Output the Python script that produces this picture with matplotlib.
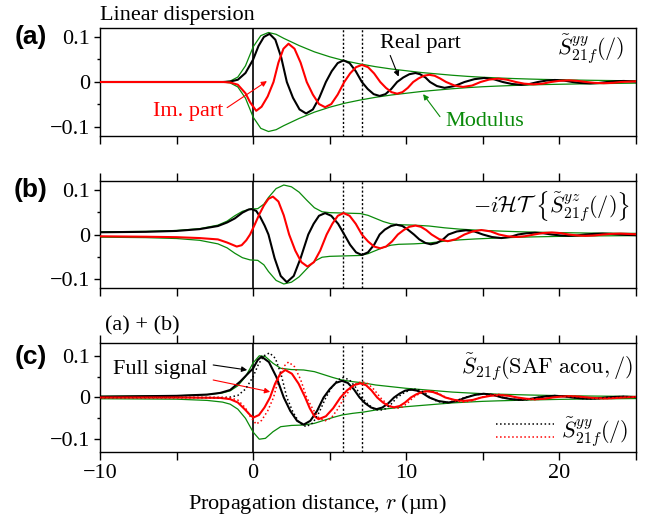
import numpy as np
import matplotlib
matplotlib.use('Agg')
import matplotlib.pyplot as plt
from matplotlib.ticker import MultipleLocator, FuncFormatter
from matplotlib.lines import Line2D
from matplotlib.legend_handler import HandlerBase

plt.rcParams['font.family'] = ['Liberation Serif', 'DejaVu Serif']
plt.rcParams['mathtext.fontset'] = 'cm'
plt.rcParams['font.size'] = 16
plt.rcParams['axes.linewidth'] = 1.0

# values as (r, S) pairs, r in um

# (a) linear dispersion, S21f^yy
a_re = [(-10, 0), (-2, 0), (-1.5, 0.001), (-1.0, 0.005), (-0.5, 0.02), (0, 0.05), (0.35, 0.08), (0.7, 0.1),
        (1.07, 0.107), (1.45, 0.094), (1.83, 0.055), (2.2, 0), (2.6, -0.035), (3.03, -0.061), (3.46, -0.07),
        (3.9, -0.061), (4.32, -0.035), (4.75, 0), (5.13, 0.024), (5.52, 0.042), (5.9, 0.048), (6.3, 0.042),
        (6.7, 0.024), (7.1, 0), (7.48, -0.0155), (7.87, -0.027), (8.26, -0.031), (8.64, -0.027), (9.02, -0.0155),
        (9.4, 0), (9.8, 0.01), (10.2, 0.0173), (10.6, 0.020), (10.9, 0.0173), (11.25, 0.01), (11.55, 0),
        (12.0, -0.009), (12.5, -0.013), (13.15, -0.009), (13.8, 0), (14.45, 0.0063), (15.1, 0.009), (15.7, 0.0063),
        (16.3, 0), (16.9, -0.0044), (17.5, -0.0063), (18.05, -0.0044), (18.6, 0), (19.15, 0.0032), (19.7, 0.0045),
        (20.3, 0.0032), (20.85, 0), (21.4, -0.0023), (22.0, -0.0032), (22.55, -0.0023), (23.1, 0), (23.65, 0.0016),
        (24.2, 0.0023), (25, 0.001)]
a_im = [(-10, 0), (-2, 0), (-1.5, -0.001), (-1.0, -0.006), (-0.5, -0.025), (-0.2, -0.045), (0.2, -0.064),
        (0.55, -0.055), (0.95, -0.032), (1.33, 0), (1.65, 0.043), (1.98, 0.074), (2.31, 0.085), (2.7, 0.074),
        (3.1, 0.043), (3.5, 0), (3.9, -0.028), (4.3, -0.049), (4.7, -0.056), (5.1, -0.049), (5.52, -0.028),
        (5.95, 0), (6.33, 0.019), (6.72, 0.033), (7.1, 0.038), (7.5, 0.033), (7.9, 0.019), (8.3, 0),
        (8.67, -0.013), (9.03, -0.0225), (9.4, -0.026), (9.75, -0.0225), (10.1, -0.013), (10.45, 0), (10.8, 0.008),
        (11.15, 0.0139), (11.5, 0.016), (11.85, 0.0139), (12.2, 0.008), (12.6, 0), (13.15, -0.0078),
        (13.7, -0.011), (14.3, -0.0078), (14.85, 0), (15.4, 0.0053), (16.0, 0.0075), (16.55, 0.0053), (17.15, 0),
        (17.7, -0.0037), (18.3, -0.0052), (18.9, -0.0037), (19.45, 0), (20.0, 0.0026), (20.6, 0.0037),
        (21.15, 0.0026), (21.75, 0), (22.3, -0.0019), (22.9, -0.0027), (23.5, -0.0019), (24.0, 0), (25, 0.0015)]
a_mod = [(-10, 0), (-2, 0), (-1.5, 0.002), (-1.0, 0.011), (-0.5, 0.036), (0, 0.078), (0.5, 0.103), (1.0, 0.110),
         (1.5, 0.106), (2.0, 0.097), (3.0, 0.081), (4.0, 0.067), (5.0, 0.056), (6.0, 0.047), (7.0, 0.040),
         (8.0, 0.034), (9.0, 0.029), (10.0, 0.025), (11.0, 0.021), (12.0, 0.018), (13.0, 0.015), (14.0, 0.0125),
         (15.0, 0.0105), (16.0, 0.009), (17.0, 0.0077), (18.0, 0.0066), (19.0, 0.0057), (20.0, 0.005),
         (22.0, 0.0038), (25.0, 0.0025)]

# (b) -iHT{S21f^yz}
b_re = [(-10, 0.005), (-7, 0.006), (-5, 0.008), (-3.5, 0.012), (-2.3, 0.019), (-1.7, 0.027), (-1.2, 0.036),
        (-0.7, 0.049), (-0.3, 0.056), (-0.1, 0.057), (0.2, 0.053), (0.45, 0.04), (0.75, 0.02), (1.0, 0),
        (1.4, -0.053), (1.8, -0.093), (2.2, -0.107), (2.65, -0.093), (3.1, -0.053), (3.6, 0), (3.95, 0.024),
        (4.3, 0.042), (4.7, 0.048), (5.1, 0.042), (5.55, 0.024), (5.95, 0), (6.33, -0.023), (6.72, -0.04),
        (7.1, -0.046), (7.5, -0.04), (7.9, -0.023), (8.26, 0), (8.6, 0.011), (9.0, 0.019), (9.35, 0.022),
        (9.75, 0.019), (10.1, 0.011), (10.5, 0), (10.85, -0.011), (11.25, -0.019), (11.6, -0.022), (12.0, -0.019),
        (12.4, -0.011), (12.75, 0), (13.3, 0.0068), (13.9, 0.0095), (14.45, 0.0068), (15.0, 0), (15.6, -0.0057),
        (16.2, -0.008), (16.75, -0.0057), (17.3, 0), (17.85, 0.0028), (18.4, 0.004), (18.95, 0.0028), (19.5, 0),
        (20.05, -0.0021), (20.6, -0.003), (21.15, -0.0021), (21.7, 0), (22.25, 0.0014), (22.8, 0.002),
        (23.35, 0.0014), (23.9, 0), (24.45, -0.001), (25, -0.0015)]
b_im = [(-10, -0.004), (-7, -0.005), (-5, -0.006), (-3.5, -0.008), (-2.3, -0.011), (-1.7, -0.018),
        (-1.07, -0.027), (-0.75, -0.024), (-0.45, -0.013), (-0.2, 0), (0.1, 0.022), (0.4, 0.045), (0.7, 0.065),
        (1.0, 0.08), (1.29, 0.085), (1.65, 0.074), (2.0, 0.043), (2.35, 0), (2.75, -0.036), (3.15, -0.062),
        (3.55, -0.072), (3.97, -0.062), (4.38, -0.036), (4.8, 0), (5.17, 0.024), (5.53, 0.042), (5.9, 0.048),
        (6.3, 0.042), (6.7, 0.024), (7.1, 0), (7.5, -0.0155), (7.9, -0.027), (8.3, -0.031), (8.68, -0.027),
        (9.07, -0.0155), (9.45, 0), (9.83, 0.01), (10.2, 0.0173), (10.6, 0.020), (10.95, 0.0173), (11.3, 0.01),
        (11.65, 0), (12.15, -0.0105), (12.7, -0.015), (13.25, -0.0105), (13.8, 0), (14.35, 0.007), (14.9, 0.010),
        (15.5, 0.007), (16.05, 0), (16.6, -0.0039), (17.2, -0.0055), (17.75, -0.0039), (18.35, 0), (18.9, 0.0032),
        (19.5, 0.0045), (20.05, 0.0032), (20.6, 0), (21.15, -0.0021), (21.7, -0.003), (22.3, -0.0021), (22.85, 0),
        (23.4, 0.0014), (24.0, 0.002), (25, 0.0005)]
b_mod = [(-10, 0.006), (-7, 0.007), (-5, 0.009), (-3.5, 0.013), (-2.3, 0.021), (-1.7, 0.03), (-1.2, 0.042),
         (-0.7, 0.052), (-0.2, 0.057), (0.3, 0.058), (0.7, 0.068), (1.0, 0.083), (1.5, 0.103), (2.0, 0.111),
         (2.5, 0.107), (3.0, 0.095), (3.5, 0.077), (4.0, 0.06), (4.5, 0.051), (5.0, 0.049), (6.0, 0.048),
         (7.0, 0.047), (7.5, 0.043), (8.0, 0.036), (8.5, 0.029), (9.0, 0.024), (9.5, 0.022), (10.5, 0.021),
         (11.5, 0.019), (12.5, 0.015), (13.5, 0.012), (14.5, 0.01), (15.5, 0.0085), (16.5, 0.0072), (17.5, 0.006),
         (18.5, 0.0052), (20.0, 0.0042), (22.0, 0.0032), (25.0, 0.0025)]

# (c) full signal (a) + (b)
c_re = [(-10, 0.002), (-5, 0.004), (-3, 0.007), (-2.15, 0.011), (-1.5, 0.018), (-0.85, 0.038), (-0.4, 0.055),
        (0, 0.07), (0.3, 0.09), (0.55, 0.098), (1.03, 0.085), (1.52, 0.049), (2.0, 0), (2.43, -0.0325),
        (2.87, -0.056), (3.3, -0.065), (3.73, -0.056), (4.17, -0.0325), (4.6, 0), (5.0, 0.02), (5.4, 0.035),
        (5.8, 0.040), (6.18, 0.035), (6.57, 0.02), (6.95, 0), (7.32, -0.014), (7.7, -0.024), (8.06, -0.028),
        (8.44, -0.024), (8.82, -0.014), (9.2, 0), (9.57, 0.0095), (9.93, 0.0165), (10.3, 0.019), (10.7, 0.0165),
        (11.1, 0.0095), (11.5, 0), (12.1, -0.0085), (12.75, -0.012), (13.3, -0.0085), (13.9, 0), (14.5, 0.0064),
        (15.05, 0.009), (15.65, 0.0064), (16.25, 0), (16.85, -0.004), (17.45, -0.0056), (18.0, -0.004), (18.6, 0),
        (19.15, 0.0028), (19.7, 0.004), (20.3, 0.0028), (20.85, 0), (21.4, -0.002), (22.0, -0.0028),
        (22.55, -0.002), (23.1, 0), (23.65, 0.0014), (24.2, 0.002), (25, 0.001)]
c_im = [(-10, 0), (-5, 0), (-2.15, -0.001), (-1.5, -0.004), (-1.0, -0.012), (-0.5, -0.03), (-0.2, -0.042),
        (0.02, -0.048), (0.38, -0.042), (0.74, -0.024), (1.1, 0), (1.43, 0.033), (1.77, 0.057), (2.1, 0.066),
        (2.53, 0.057), (2.97, 0.033), (3.4, 0), (3.7, -0.026), (4.0, -0.045), (4.27, -0.052), (4.75, -0.045),
        (5.22, -0.026), (5.7, 0), (6.13, 0.017), (6.57, 0.0295), (7.0, 0.034), (7.37, 0.0295), (7.73, 0.017),
        (8.1, 0), (8.47, -0.0118), (8.83, -0.0204), (9.2, -0.0235), (9.57, -0.0204), (9.93, -0.0118), (10.3, 0),
        (10.65, 0.0075), (11.0, 0.013), (11.35, 0.015), (11.75, 0.013), (12.15, 0.0075), (12.55, 0),
        (13.15, -0.0058), (13.75, -0.0082), (14.35, -0.0058), (14.9, 0), (15.5, 0.004), (16.1, 0.0057),
        (16.7, 0.004), (17.25, 0), (17.85, -0.003), (18.4, -0.0042), (19.0, -0.003), (19.55, 0), (20.1, 0.0021),
        (20.7, 0.003), (21.3, 0.0021), (21.85, 0), (22.4, -0.0015), (23.0, -0.0021), (23.55, -0.0015), (24.1, 0),
        (25, 0.0015)]
c_mod = [(-10, 0.003), (-5, 0.004), (-3, 0.007), (-2, 0.011), (-1.5, 0.016), (-1, 0.028), (-0.5, 0.05), (0, 0.083),
         (0.4, 0.1), (0.8, 0.098), (1.3, 0.082), (1.8, 0.07), (2.5, 0.067), (3.3, 0.066), (4.0, 0.062),
         (4.6, 0.055), (5.2, 0.048), (5.8, 0.042), (6.5, 0.038), (7.2, 0.035), (8, 0.03), (9, 0.026), (10, 0.022),
         (11, 0.019), (12, 0.016), (13, 0.013), (14, 0.011), (15, 0.0092), (16, 0.008), (18, 0.006), (20, 0.0045),
         (22, 0.0035), (25, 0.0025)]

dotted_x = [5.9, 7.1]

GREEN = '#0a8a0a'


def xy(pairs):
    arr = np.array(pairs, dtype=float)
    return arr[:, 0], arr[:, 1]


def yfmt(v, pos):
    if abs(v) < 1e-9:
        return '0'
    return f'{v:.1f}'.replace('-', '\u2212')


class HandlerStack(HandlerBase):
    # two line samples above each other with one label
    def create_artists(self, legend, orig_handle, xdescent, ydescent, width, height, fontsize, trans):
        arts = []
        for i, h in enumerate(orig_handle):
            y = height * (0.95 - 0.9 * i) - ydescent
            ln = Line2D([-xdescent, width - xdescent], [y, y], color=h.get_color(),
                        linestyle=h.get_linestyle(), linewidth=h.get_linewidth())
            ln.set_transform(trans)
            arts.append(ln)
        return arts


def style(ax, ylim, top, labels):
    ax.set_xlim(-10, 25)
    ax.set_ylim(-ylim, ylim)
    ax.xaxis.set_major_locator(MultipleLocator(10))
    ax.xaxis.set_minor_locator(MultipleLocator(5))
    ax.yaxis.set_major_locator(MultipleLocator(0.1))
    ax.yaxis.set_minor_locator(MultipleLocator(0.05))
    ax.yaxis.set_major_formatter(FuncFormatter(yfmt))
    ax.tick_params(axis='x', which='both', direction='out', length=5.5, width=1,
                   top=top, bottom=True, labelbottom=labels)
    ax.tick_params(axis='y', which='major', direction='out', length=4.3, width=1, pad=3)
    ax.tick_params(axis='y', which='minor', direction='out', length=2.2, width=1)
    ax.axvline(0, color='k', lw=1.2, zorder=1)
    for xv in dotted_x:
        ax.axvline(xv, color='k', lw=1.0, ls=(0, (1.5, 1.5)), zorder=1)


def draw(ax, re, im, mod):
    mx, my = xy(mod)
    ax.plot(mx, my, color=GREEN, lw=0.9, zorder=2)
    ax.plot(mx, -my, color=GREEN, lw=0.9, zorder=2)
    ax.plot(*xy(re), color='k', lw=1.5, zorder=3, solid_joinstyle='round')
    ax.plot(*xy(im), color='red', lw=1.5, zorder=4, solid_joinstyle='round')


arrow = dict(arrowstyle='-|>', lw=0.8, mutation_scale=8, shrinkA=0, shrinkB=0)

fig = plt.figure(figsize=(6.49, 5.21), dpi=100)
L, W = 100 / 649, 536 / 649
ax_a = fig.add_axes([L, 1 - 136 / 521, W, 108 / 521])
ax_b = fig.add_axes([L, 1 - 288 / 521, W, 107 / 521])
ax_c = fig.add_axes([L, 1 - 451.7 / 521, W, 108.4 / 521])

style(ax_a, 0.12, False, False)
style(ax_b, 0.12, True, False)
style(ax_c, 0.13, True, True)

# panel a
draw(ax_a, a_re, a_im, a_mod)
ax_a.text(0.0, 1.03, 'Linear dispersion', transform=ax_a.transAxes, ha='left', va='bottom')
ax_a.text(0.979, 0.80, r'$\tilde{S}^{yy}_{21f}(/)$', transform=ax_a.transAxes, ha='right', va='center')
ax_a.text(10.9, 0.086, 'Real part', ha='center', va='center')
ax_a.annotate('', xy=(9.5, 0.012), xytext=(8.95, 0.059), arrowprops=dict(arrow, color='k'))
ax_a.text(-4.25, -0.066, 'Im. part', ha='center', va='center', color='red')
ax_a.annotate('', xy=(0.9, 0.002), xytext=(-1.7, -0.057), arrowprops=dict(arrow, color='red'))
ax_a.text(15.1, -0.088, 'Modulus', ha='center', va='center', color=GREEN)
ax_a.annotate('', xy=(11.1, -0.027), xytext=(12.2, -0.077), arrowprops=dict(arrow, color=GREEN))

# panel b
draw(ax_b, b_re, b_im, b_mod)
ax_b.text(0.989, 0.757, r'$-i\mathcal{HT}\ \left\{\tilde{S}^{yz}_{21f}(/)\right\}$', transform=ax_b.transAxes,
          ha='right', va='center')

# panel c
draw(ax_c, c_re, c_im, c_mod)
l1, = ax_c.plot(*xy(a_re), color='k', lw=1.1, ls=':', zorder=5)
l2, = ax_c.plot(*xy(a_im), color='red', lw=1.1, ls=':', zorder=5)
ax_c.text(0.009, 1.075, '(a) + (b)', transform=ax_c.transAxes, ha='left', va='bottom')
ax_c.text(0.994, 0.78, r'$\tilde{S}_{21f}(\mathrm{SAF\ acou},/)$', transform=ax_c.transAxes, ha='right', va='center')
ax_c.text(-6.08, 0.066, 'Full signal', ha='center', va='center')
ax_c.annotate('', xy=(-0.39, 0.066), xytext=(-2.61, 0.078), arrowprops=dict(arrow, color='k'))
ax_c.annotate('', xy=(1.11, 0.0136), xytext=(-2.61, 0.042), arrowprops=dict(arrow, color='red'))
ax_c.legend([(l1, l2)], [r'$\tilde{S}^{yy}_{21f}(/)$'], handler_map={tuple: HandlerStack()},
            loc='center right', bbox_to_anchor=(0.985, 0.18), frameon=False, handlelength=2.6,
            handleheight=0.6, handletextpad=0.3, borderpad=0, borderaxespad=0)
ax_c.set_xlabel('Propagation distance, $r$ (\u00b5m)')
ax_c.xaxis.set_label_coords(0.405, -0.37)

for lab, yy in [('(a)', 1 - 37 / 521), ('(b)', 1 - 190 / 521), ('(c)', 1 - 357 / 521)]:
    fig.text(31 / 649, yy, lab, ha='center', va='center', fontsize=19, fontweight='bold',
             family='Liberation Sans')

fig.savefig('out.png', dpi=100)
